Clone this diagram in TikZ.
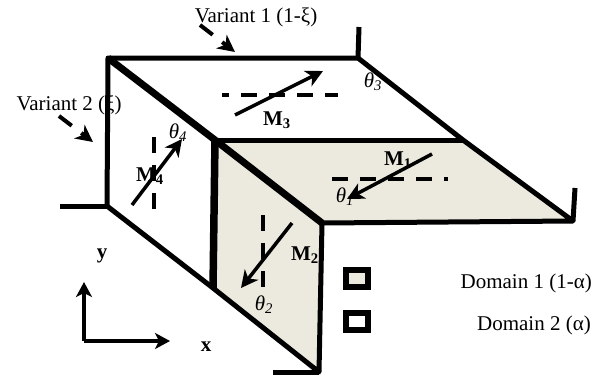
\documentclass[tikz,border=0pt]{standalone}
\usepackage{fontspec}
\setmainfont{Liberation Serif}
\usetikzlibrary{arrows.meta}
\definecolor{domainfill}{HTML}{ECEADF}
\tikzset{
  edge/.style={line width=5pt},
  magnet/.style={line width=3.5pt, -{Stealth[length=17pt,width=17pt,inset=5pt]}},
  refline/.style={line width=4pt, dash pattern=on 16pt off 12pt},
  axis/.style={line width=3.5pt, -{Stealth[length=15pt,width=16pt,inset=4pt]}},
  pointer/.style={line width=4pt, dash pattern=on 16pt off 12pt, -{Stealth[length=17pt,width=17pt,inset=5pt]}},
  label/.style={font=\fontsize{21}{21}\selectfont, inner sep=0pt},
  boldlabel/.style={font=\fontsize{21}{21}\selectfont\bfseries, inner sep=0pt},
  swatch/.style={draw, line width=6pt, minimum width=22pt, minimum height=17pt, inner sep=0pt}
}
\newcommand{\angl}[1]{\textit{θ}\textsubscript{\textit{#1}}}
\begin{document}
\begin{tikzpicture}[x=1pt,y=-1pt]
  \useasboundingbox (0,0) rectangle (601,378);
  \coordinate (A) at (108,58);
  \coordinate (B) at (358,58);
  \coordinate (C) at (215,140);
  \coordinate (D) at (463,140);
  \coordinate (E) at (573,221);
  \coordinate (F) at (322,223);
  \coordinate (G) at (319,372);
  \coordinate (H) at (213,288);
  \coordinate (J) at (107,206);
  % shaded faces
  \fill[domainfill] (C) -- (D) -- (E) -- (F) -- (G) -- (H) -- cycle;
  % stubs
  \draw[edge] (B) -- (359,27);
  \draw[edge] (E) -- (575,188);
  \draw[edge] (J) -- (60,206);
  \draw[edge] (G) -- (273,372);
  % outlines
  \draw[edge, line join=round] (J) -- (A) -- (B) -- (D) -- (E) -- (F) -- (G) -- (H) -- cycle;
  \draw[edge] (C) -- (D);
  \draw[line width=7pt] (A) -- (C) -- (F);
  \draw[line width=7.5pt] (C) -- (H);
  % reference lines
  \draw[refline, dash phase=9pt] (222,95) -- (338,95);
  \draw[refline] (332,179) -- (448,179);
  \draw[refline] (154,137) -- (154,209);
  \draw[refline] (262.5,215) -- (262.5,287);
  % magnetisation
  \draw[magnet] (235,115) -- (323,71);
  \draw[magnet] (432,154) -- (347,199);
  \draw[magnet] (132,205) -- (182,139);
  \draw[magnet] (292,223) -- (241,288);
  \node[boldlabel] (m1) at (398,160) {M\textsubscript{1}};
  \node[boldlabel] (m2) at (305,255) {M\textsubscript{2}};
  \node[boldlabel] (m3) at (277,120) {M\textsubscript{3}};
  \node[boldlabel] (m4) at (150,176) {M\textsubscript{4}};
  \node[label] (t1) at (345,197) {\angl{1}};
  \node[label] (t2) at (264,305) {\angl{2}};
  \node[label] (t3) at (373,82) {\angl{3}};
  \node[label] (t4) at (178,133) {\angl{4}};
  % variants
  \node[label] (v1) at (256,17) {Variant 1 (1-ξ)};
  \node[label] (v2) at (69,105) {Variant 2 (ξ)};
  \draw[pointer] (200,25) -- (235,52);
  \draw[pointer] (59,116) -- (93,142);
  % axes
  \coordinate (O) at (84,341);
  \coordinate (Y) at (84,282);
  \coordinate (X) at (170,341);
  \draw[axis] (O) -- (Y);
  \draw[axis] (O) -- (X);
  \node[boldlabel] (yl) at (102,256) {y};
  \node[boldlabel] (xl) at (206,347) {x};
  % legend
  \node[swatch, fill=domainfill] (s1) at (357,278.5) {};
  \node[swatch, fill=white] (s2) at (357,321) {};
  \node[label, anchor=east] (d1) at (592,283) {Domain 1 (1-α)};
  \node[label, anchor=east] (d2) at (591,325) {Domain 2 (α)};
\end{tikzpicture}
\end{document}
